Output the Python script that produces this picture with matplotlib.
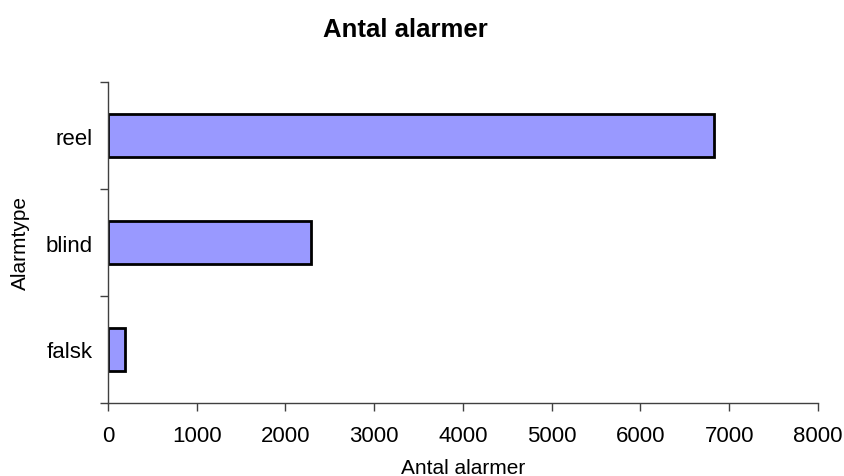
import matplotlib.pyplot as plt

plt.rcParams["font.family"] = ["Liberation Sans", "DejaVu Sans"]

categories = ["falsk", "blind", "reel"]
counts = [195, 2290, 6830]
x_ticks = [0, 1000, 2000, 3000, 4000, 5000, 6000, 7000, 8000]

BAR_COLOR = "#9999FF"
AXIS_COLOR = "#404040"
W, H = 845, 477

fig = plt.figure(figsize=(W / 100, H / 100), dpi=100)
ax = fig.add_axes([108 / W, 1 - 404 / H, 710 / W, 321 / H])

positions = list(range(len(categories)))
ax.barh(positions, counts, height=0.4, color=BAR_COLOR, edgecolor="black", linewidth=2)

ax.set_xlim(0, 8000)
ax.set_ylim(-0.5, len(categories) - 0.5)
ax.set_xticks(x_ticks)
ax.set_xticklabels([str(t) for t in x_ticks])
ax.set_yticks(positions)
ax.set_yticklabels(categories)
# category boundaries get the tick marks, centres get the labels
ax.set_yticks([p - 0.5 for p in range(len(categories) + 1)], minor=True)

ax.tick_params(axis="x", direction="out", length=6, width=1, color=AXIS_COLOR,
               labelsize=16, pad=10)
ax.tick_params(axis="y", which="major", length=0, labelsize=16, pad=11)
ax.tick_params(axis="y", which="minor", direction="out", length=6, width=1, color=AXIS_COLOR)

for side in ("top", "right"):
    ax.spines[side].set_visible(False)
for side in ("left", "bottom"):
    ax.spines[side].set_color(AXIS_COLOR)
    ax.spines[side].set_linewidth(1)

fig.text(405 / W, 1 - 30 / H, "Antal alarmer", ha="center", va="center",
         fontsize=18.5, fontweight="bold")
fig.text(463 / W, 1 - 469 / H, "Antal alarmer", ha="center", va="center", fontsize=15)
fig.text(20 / W, 1 - 243 / H, "Alarmtype", ha="center", va="center",
         rotation=90, fontsize=15)

fig.savefig("out.png", dpi=100)
